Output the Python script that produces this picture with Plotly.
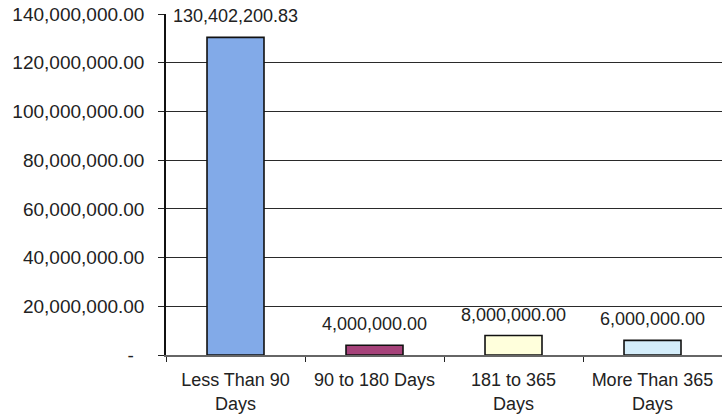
import plotly.graph_objects as go

# Aging buckets and outstanding amounts
categories = ["Less Than 90<br>Days", "90 to 180 Days", "181 to 365<br>Days", "More Than 365<br>Days"]
amounts = [130402200.83, 4000000.00, 8000000.00, 6000000.00]
bar_colors = ["#82AAE8", "#A6427A", "#FFFFDC", "#D4EDFA"]

tick_values = [0, 20e6, 40e6, 60e6, 80e6, 100e6, 120e6, 140e6]
tick_labels = ["-\u00a0\u00a0"] + [f"{v:,.2f}" for v in tick_values[1:]]

FONT = "Liberation Sans, Arial, sans-serif"

fig = go.Figure()
fig.add_trace(go.Bar(
    x=categories,
    y=amounts,
    width=0.41,
    marker=dict(color=bar_colors, line=dict(color="#111111", width=1.6)),
    hoverinfo="skip",
))

# Value labels above each bar
for cat, val in zip(categories, amounts):
    fig.add_annotation(
        x=cat, y=val, text=f"{val:,.2f}",
        showarrow=False, yanchor="bottom", yshift=9,
        font=dict(family=FONT, size=18, color="#222222"),
    )

fig.update_layout(
    width=722, height=415,
    margin=dict(l=166, r=0, t=14, b=60),
    paper_bgcolor="white",
    plot_bgcolor="white",
    showlegend=False,
    bargap=0.59,
    font=dict(family=FONT, color="#222222"),
)

fig.update_xaxes(
    type="category",
    range=[-0.5, 3.5],
    showgrid=False,
    showline=True, linecolor="#666666", linewidth=1.5,
    ticks="outside", tickson="boundaries", ticklen=5, tickcolor="#222222",
    tickfont=dict(family=FONT, size=18, color="#222222"),
    ticklabelstandoff=8,
)

fig.update_yaxes(
    range=[0, 140e6],
    tickvals=tick_values,
    ticktext=tick_labels,
    showgrid=True, gridcolor="#2a2a2a", gridwidth=1,
    zeroline=False,
    showline=True, linecolor="#111111", linewidth=1.5,
    ticks="outside", ticklen=6, tickcolor="#222222",
    tickfont=dict(family=FONT, size=19, color="#222222"),
    ticklabelstandoff=10,
)

fig.write_html("out.html")
